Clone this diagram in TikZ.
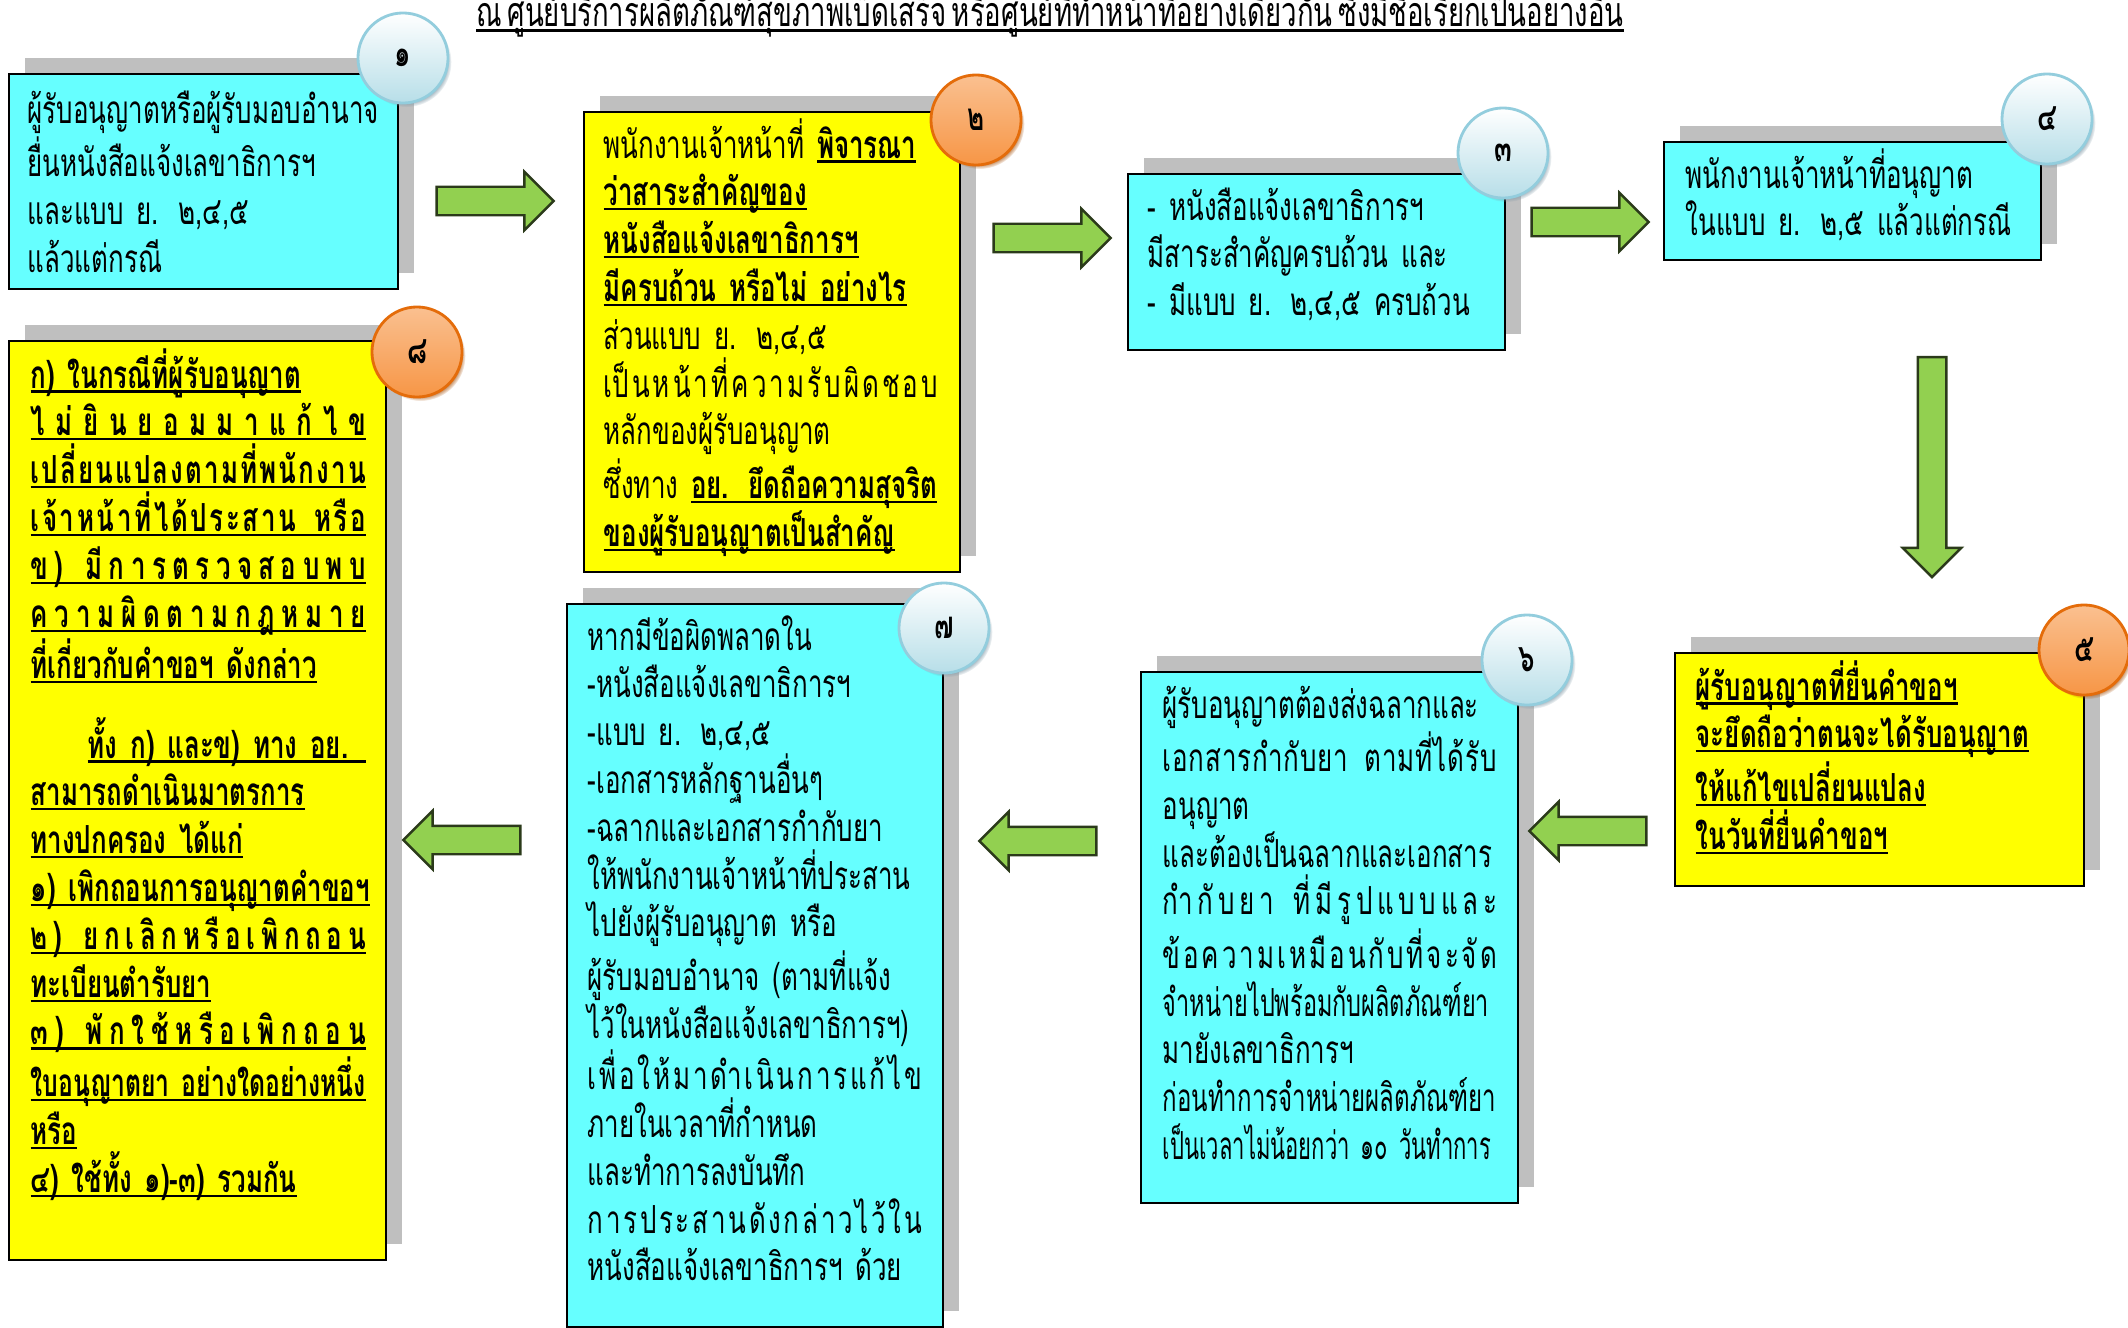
\documentclass[tikz,border=0pt]{standalone}
\usepackage{fontspec}
\newfontfamily\thaifont[Script=Thai,FakeStretch=0.67,WordSpace=0.6]{Loma}
\usetikzlibrary{shapes.arrows,shadows}
\definecolor{boxcyan}{HTML}{66FFFF}
\definecolor{boxyellow}{HTML}{FFFF00}
\definecolor{shadowgray}{HTML}{BFBFBF}
\definecolor{arrowgreen}{HTML}{92D050}
\definecolor{arrowedge}{HTML}{2B3A1A}
\definecolor{ballblue}{HTML}{B7DEE8}
\definecolor{balledge}{HTML}{93CDDD}
\definecolor{ballshade}{HTML}{7F98A6}
\definecolor{orangetop}{HTML}{FAC090}
\definecolor{orangebot}{HTML}{F79646}
\definecolor{orangeedge}{HTML}{E46C0A}
\definecolor{orangeshade}{HTML}{A8540F}

% underline at a fixed depth, and a line spread to full width
\newcommand{\thul}[1]{\leavevmode\setbox0\hbox{#1}\rlap{\rule[-1.3pt]{\wd0}{0.6pt}}\box0}
\newcommand{\spread}[2][3.34cm]{\makebox[#1][s]{\spaceskip=0pt plus 1fil\relax #2}}
\newcommand{\gap}{\hspace{0.4em}}
\newcommand{\squeeze}[2]{\resizebox{#1}{\height}{#2}}

\tikzset{
    box/.style={draw, line width=0.6pt, anchor=north west, inner sep=0pt,
        drop shadow={shadow xshift=0.16cm, shadow yshift=0.16cm,
        fill=shadowgray, opacity=1}},
    cyanbox/.style={box, fill=boxcyan},
    yellowbox/.style={box, fill=boxyellow},
    txt/.style={anchor=base west, inner sep=0pt, align=left, text width=5cm}
}
\tikzset{
    garrow/.style={single arrow, draw=arrowedge, fill=arrowgreen, line width=0.7pt,
        inner xsep=0pt, inner ysep=0.13cm, minimum height=1.17cm,
        single arrow head extend=0.15cm}
}
\tikzset{
    ball/.style={circle, minimum size=0.9cm, inner sep=0pt, line width=0.8pt,
        font=\thaifont\bfseries\fontsize{11}{13}\selectfont},
    blueball/.style={ball, draw=balledge, top color=white, bottom color=ballblue,
        circular drop shadow={shadow scale=1, shadow xshift=0.035cm,
        shadow yshift=-0.04cm, fill=ballshade, opacity=0.9}},
    orangeball/.style={ball, draw=orangeedge, top color=orangetop, bottom color=orangebot,
        circular drop shadow={shadow scale=1, shadow xshift=0.035cm,
        shadow yshift=-0.04cm, fill=orangeshade, opacity=0.9}}
}

\begin{document}
\begin{tikzpicture}[x=0.01cm, y=-0.01cm,
    every node/.style={font=\thaifont\fontsize{11}{13.6}\selectfont}]
	\useasboundingbox (0,0) rectangle (2128,1327);

	\node (title) [anchor=base, inner sep=0pt, font=\thaifont\fontsize{11.7}{14}\selectfont] at (1050,27) {\thul{ณ ศูนย์บริการผลิตภัณฑ์สุขภาพเบ็ดเสร็จ หรือศูนย์ที่ทำหน้าที่อย่างเดียวกัน ซึ่งมีชื่อเรียกเป็นอย่างอื่น}};

	% boxes
	\node (b1) [cyanbox, minimum width=3.89cm, minimum height=2.15cm] at (8,73) {};
	\node (b2) [yellowbox, minimum width=3.76cm, minimum height=4.60cm] at (583,111) {};
	\node (b3) [cyanbox, minimum width=3.77cm, minimum height=1.76cm] at (1127,173) {};
	\node (b4) [cyanbox, minimum width=3.77cm, minimum height=1.18cm] at (1663,141) {};
	\node (b5) [yellowbox, minimum width=4.09cm, minimum height=2.33cm] at (1674,652) {};
	\node (b6) [cyanbox, minimum width=3.77cm, minimum height=5.31cm] at (1140,671) {};
	\node (b7) [cyanbox, minimum width=3.76cm, minimum height=7.23cm] at (566,603) {};
	\node (b8) [yellowbox, minimum width=3.77cm, minimum height=9.18cm] at (8,340) {};

	% texts
	\node (t1) [txt] at (27,123) {ผู้รับอนุญาตหรือผู้รับมอบอำนาจ\\ยื่นหนังสือแจ้งเลขาธิการฯ\\และแบบ ย. ๒,๔,๕\\แล้วแต่กรณี};
	\node (t2) [txt] at (603,158) {พนักงานเจ้าหน้าที่ \thul{\bfseries พิจารณา}\\
		\thul{\bfseries ว่าสาระสำคัญของ}\\
		\thul{\bfseries หนังสือแจ้งเลขาธิการฯ}\\
		\thul{\bfseries มีครบถ้วน หรือไม่ อย่างไร}\\
		ส่วนแบบ ย. ๒,๔,๕\\
		\spread{เป็ น ห น้ า ที่ ค ว า ม รั บ ผิ ด ช อ บ}\\
		หลักของผู้รับอนุญาต\\
		ซึ่งทาง \thul{\bfseries อย. ยึดถือความสุจริต}\\
		\thul{\bfseries ของผู้รับอนุญาตเป็นสำคัญ}};
	\node (t3) [txt] at (1147,220) {- หนังสือแจ้งเลขาธิการฯ\\มีสาระสำคัญครบถ้วน และ\\- มีแบบ ย. ๒,๔,๕ ครบถ้วน};
	\node (t4) [txt] at (1685,188) {พนักงานเจ้าหน้าที่อนุญาต\\ในแบบ ย. ๒,๕ แล้วแต่กรณี};
	\node (t5) [txt, font=\thaifont\bfseries\fontsize{11}{13.6}\selectfont] at (1695,700) {\thul{ผู้รับอนุญาตที่ยื่นคำขอฯ}\\
		\thul{จะยึดถือว่าตนจะได้รับอนุญาต}\\
		\thul{ให้แก้ไขเปลี่ยนแปลง}\\
		\thul{ในวันที่ยื่นคำขอฯ}};
	\node (t6) [txt] at (1162,718) {ผู้รับอนุญาตต้องส่งฉลากและ\\
		\spread{เ อ ก ส า ร กำ กั บ ย า \gap ต า ม ที่ ไ ด้ รั บ}\\
		อนุญาต\\
		และต้องเป็นฉลากและเอกสาร\\
		\spread{กำ กั บ ย า \gap ที่ มี รู ป แ บ บ แ ล ะ}\\
		\spread{ข้ อ ค ว า ม เ ห มื อ น กั บ ที่ จ ะ จั ด}\\
		\squeeze{3.26cm}{จำหน่ายไปพร้อมกับผลิตภัณฑ์ยา}\\
		มายังเลขาธิการฯ\\
		\squeeze{3.33cm}{ก่อนทำการจำหน่ายผลิตภัณฑ์ยา}\\
		\squeeze{3.28cm}{เป็นเวลาไม่น้อยกว่า ๑๐ วันทำการ}};
	\node (t7) [txt] at (587,650) {หากมีข้อผิดพลาดใน\\
		-หนังสือแจ้งเลขาธิการฯ\\
		-แบบ ย. ๒,๔,๕\\
		-เอกสารหลักฐานอื่นๆ\\
		-ฉลากและเอกสารกำกับยา\\
		ให้พนักงานเจ้าหน้าที่ประสาน\\
		ไปยังผู้รับอนุญาต หรือ\\
		ผู้รับมอบอำนาจ (ตามที่แจ้ง\\
		ไว้ในหนังสือแจ้งเลขาธิการฯ)\\
		\spread{เ พื่ อ ใ ห้ ม า ดำ เ นิ น ก า ร แ ก้ ไ ข}\\
		ภายในเวลาที่กำหนด\\
		และทำการลงบันทึก\\
		\spread{ก า ร ป ร ะ ส า น ดั ง ก ล่ า ว ไ ว้ ใ น}\\
		หนังสือแจ้งเลขาธิการฯ ด้วย};
	\node (t8) [txt, font=\thaifont\bfseries\fontsize{11}{13.6}\selectfont] at (30,388) {\thul{ก) ในกรณีที่ผู้รับอนุญาต}\\
		\thul{\spread[3.35cm]{ไ ม่ ยิ น ย อ ม ม า แ ก้ ไ ข}}\\
		\thul{\spread[3.35cm]{เ ป ลี่ ย น แ ป ล ง ต า ม ที่ พ นั ก ง า น}}\\
		\thul{\spread[3.35cm]{เ จ้ า ห น้ า ที่ ไ ด้ ป ร ะ ส า น \gap ห รื อ}}\\
		\thul{\spread[3.35cm]{ข ) \gap มี ก า ร ต ร ว จ ส อ บ พ บ}}\\
		\thul{\spread[3.35cm]{ค ว า ม ผิ ด ต า ม ก ฎ ห ม า ย}}\\
		\thul{ที่เกี่ยวกับคำขอฯ ดังกล่าว}\\[9pt]
		\hspace*{0.57cm}\thul{\makebox[2.78cm][s]{ทั้ง ก) และข) ทาง อย.}}\\
		\thul{สามารถดำเนินมาตรการ}\\
		\thul{ทางปกครอง ได้แก่}\\
		\thul{๑) เพิกถอนการอนุญาตคำขอฯ}\\
		\thul{\spread[3.35cm]{๒ ) \gap ย ก เ ลิ ก ห รื อ เ พิ ก ถ อ น}}\\
		\thul{ทะเบียนตำรับยา}\\
		\thul{\spread[3.35cm]{๓ ) \gap พั ก ใ ช้ ห รื อ เ พิ ก ถ อ น}}\\
		\thul{\squeeze{3.35cm}{ใบอนุญาตยา อย่างใดอย่างหนึ่ง}}\\
		\thul{หรือ}\\
		\thul{๔) ใช้ทั้ง ๑)-๓) รวมกัน}};

	% block arrows
	\node (a12) [garrow] at (488,201) {};
	\node (a23) [garrow] at (1045,238) {};
	\node (a34) [garrow] at (1583,222) {};
	\node (a45) [garrow, rotate=-90, minimum height=2.2cm] at (1932,460) {};
	\node (a56) [garrow, rotate=180] at (1595,831) {};
	\node (a67) [garrow, rotate=180] at (1045,841) {};
	\node (a78) [garrow, rotate=180] at (469,840) {};

	% numbered balls
	\node (n1) [blueball] at (403,58) {๑};
	\node (n2) [orangeball] at (976,120) {๒};
	\node (n3) [blueball] at (1503,153) {๓};
	\node (n4) [blueball] at (2047,119) {๔};
	\node (n5) [orangeball] at (2084,650) {๕};
	\node (n6) [blueball] at (1527,660) {๖};
	\node (n7) [blueball] at (944,628) {๗};
	\node (n8) [orangeball] at (417,352) {๘};
\end{tikzpicture}
\end{document}
